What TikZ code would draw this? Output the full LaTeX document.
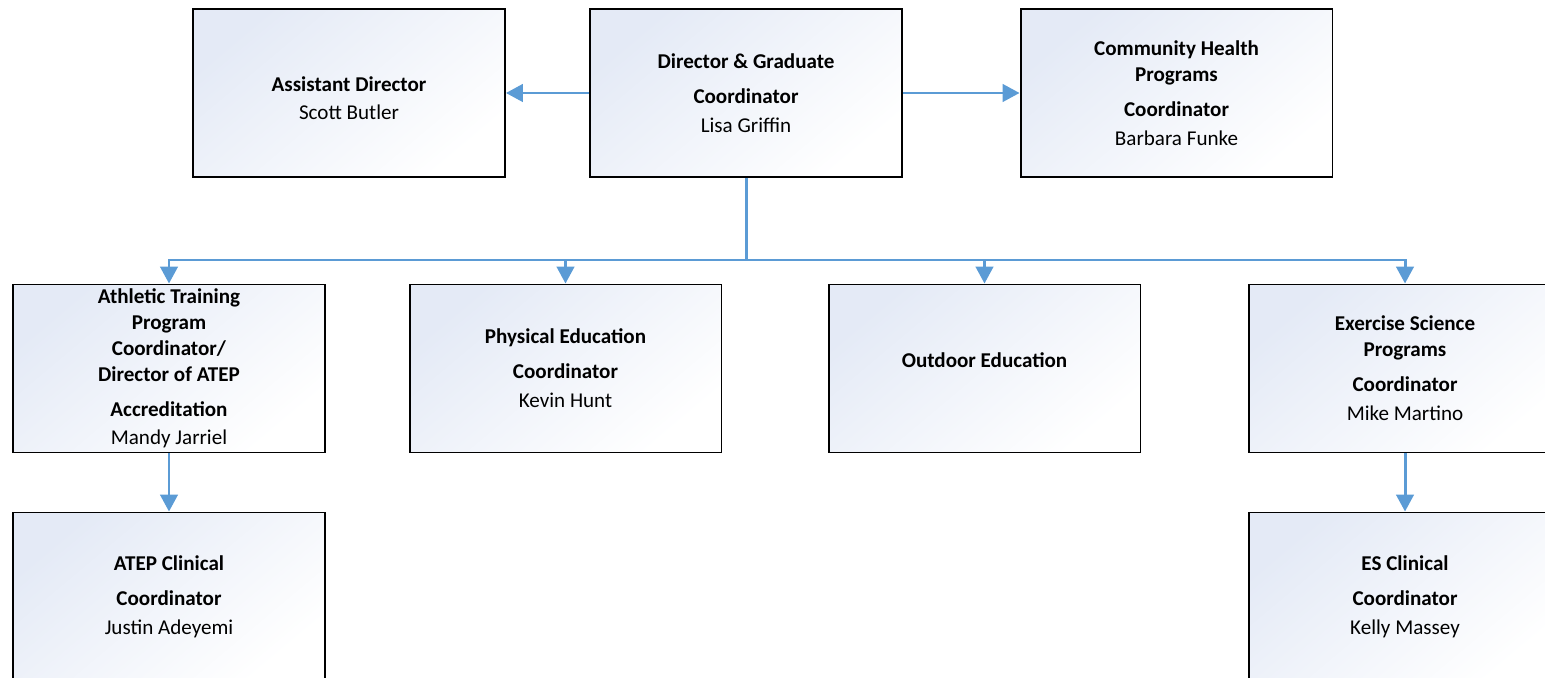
\documentclass[tikz,border=0pt]{standalone}
\usepackage{fontspec}
\setmainfont{Carlito}
\usetikzlibrary{arrows.meta,positioning}
\definecolor{linkblue}{HTML}{5B9BD5}
\definecolor{boxshade}{HTML}{E4EAF6}
\tikzset{
	orgbox/.style={draw=black, line width=1.1pt, minimum width=6.24cm, minimum height=3.36cm, inner sep=0pt,
		top color=boxshade, middle color=white, bottom color=white, shading angle=40, align=center,
		font=\fontsize{12}{14.8}\selectfont},
	link/.style={draw=linkblue, line width=1.7pt, -{Triangle[width=0.35cm,length=0.34cm]}},
	bus/.style={draw=linkblue, line width=1.7pt}
}
\begin{document}
\begin{tikzpicture}[x=0.02cm,y=-0.02cm]
	\useasboundingbox (0,0) rectangle (1545,678);
	% top row
	\node[orgbox] (dir) at (746,93) {\textbf{Director \& Graduate}\\[5.1pt]\textbf{Coordinator}\\[1.7pt]Lisa Griffin};
	\node[orgbox] (asst) at (349,93) {\rule{0pt}{14.8pt}\textbf{Assistant Director}\\[1.1pt]Scott Butler};
	\node[orgbox] (chp) at (1176.5,93) {\textbf{Community Health}\\\textbf{Programs}\\[5.1pt]\textbf{Coordinator}\\[1.7pt]Barbara Funke};
	% program row
	\node[orgbox] (ath) at (169,368.5) {\textbf{Athletic Training}\\\textbf{Program}\\\textbf{Coordinator/}\\\textbf{Director of ATEP}\\[5.1pt]\textbf{Accreditation}\\[1.2pt]Mandy Jarriel};
	\node[orgbox] (pe) at (565.5,368.5) {\textbf{Physical Education}\\[5.1pt]\textbf{Coordinator}\\[1.7pt]Kevin Hunt};
	\node[orgbox] (od) at (984.5,368.5) {\rule[-9.1pt]{0pt}{9.1pt}\textbf{Outdoor Education}};
	\node[orgbox] (es) at (1405,368.5) {\textbf{Exercise Science}\\\textbf{Programs}\\[5.1pt]\textbf{Coordinator}\\[1.7pt]Mike Martino};
	% clinical row
	\node[orgbox] (atc) at (169,596.5) {\textbf{ATEP Clinical}\\[5.1pt]\textbf{Coordinator}\\[1.7pt]Justin Adeyemi};
	\node[orgbox] (esc) at (1405,596.5) {\textbf{ES Clinical}\\[5.1pt]\textbf{Coordinator}\\[1.7pt]Kelly Massey};
	% connectors
	\draw[link] (dir) -- (asst);
	\draw[link] (dir) -- (chp);
	\coordinate (split) at (746,260);
	\draw[bus] (dir.south) -- (split);
	\foreach \n in {ath,pe,od,es}
		\draw[link] (split) -| (\n.north);
	\draw[link] (ath) -- (atc);
	\draw[link] (es) -- (esc);
\end{tikzpicture}
\end{document}
